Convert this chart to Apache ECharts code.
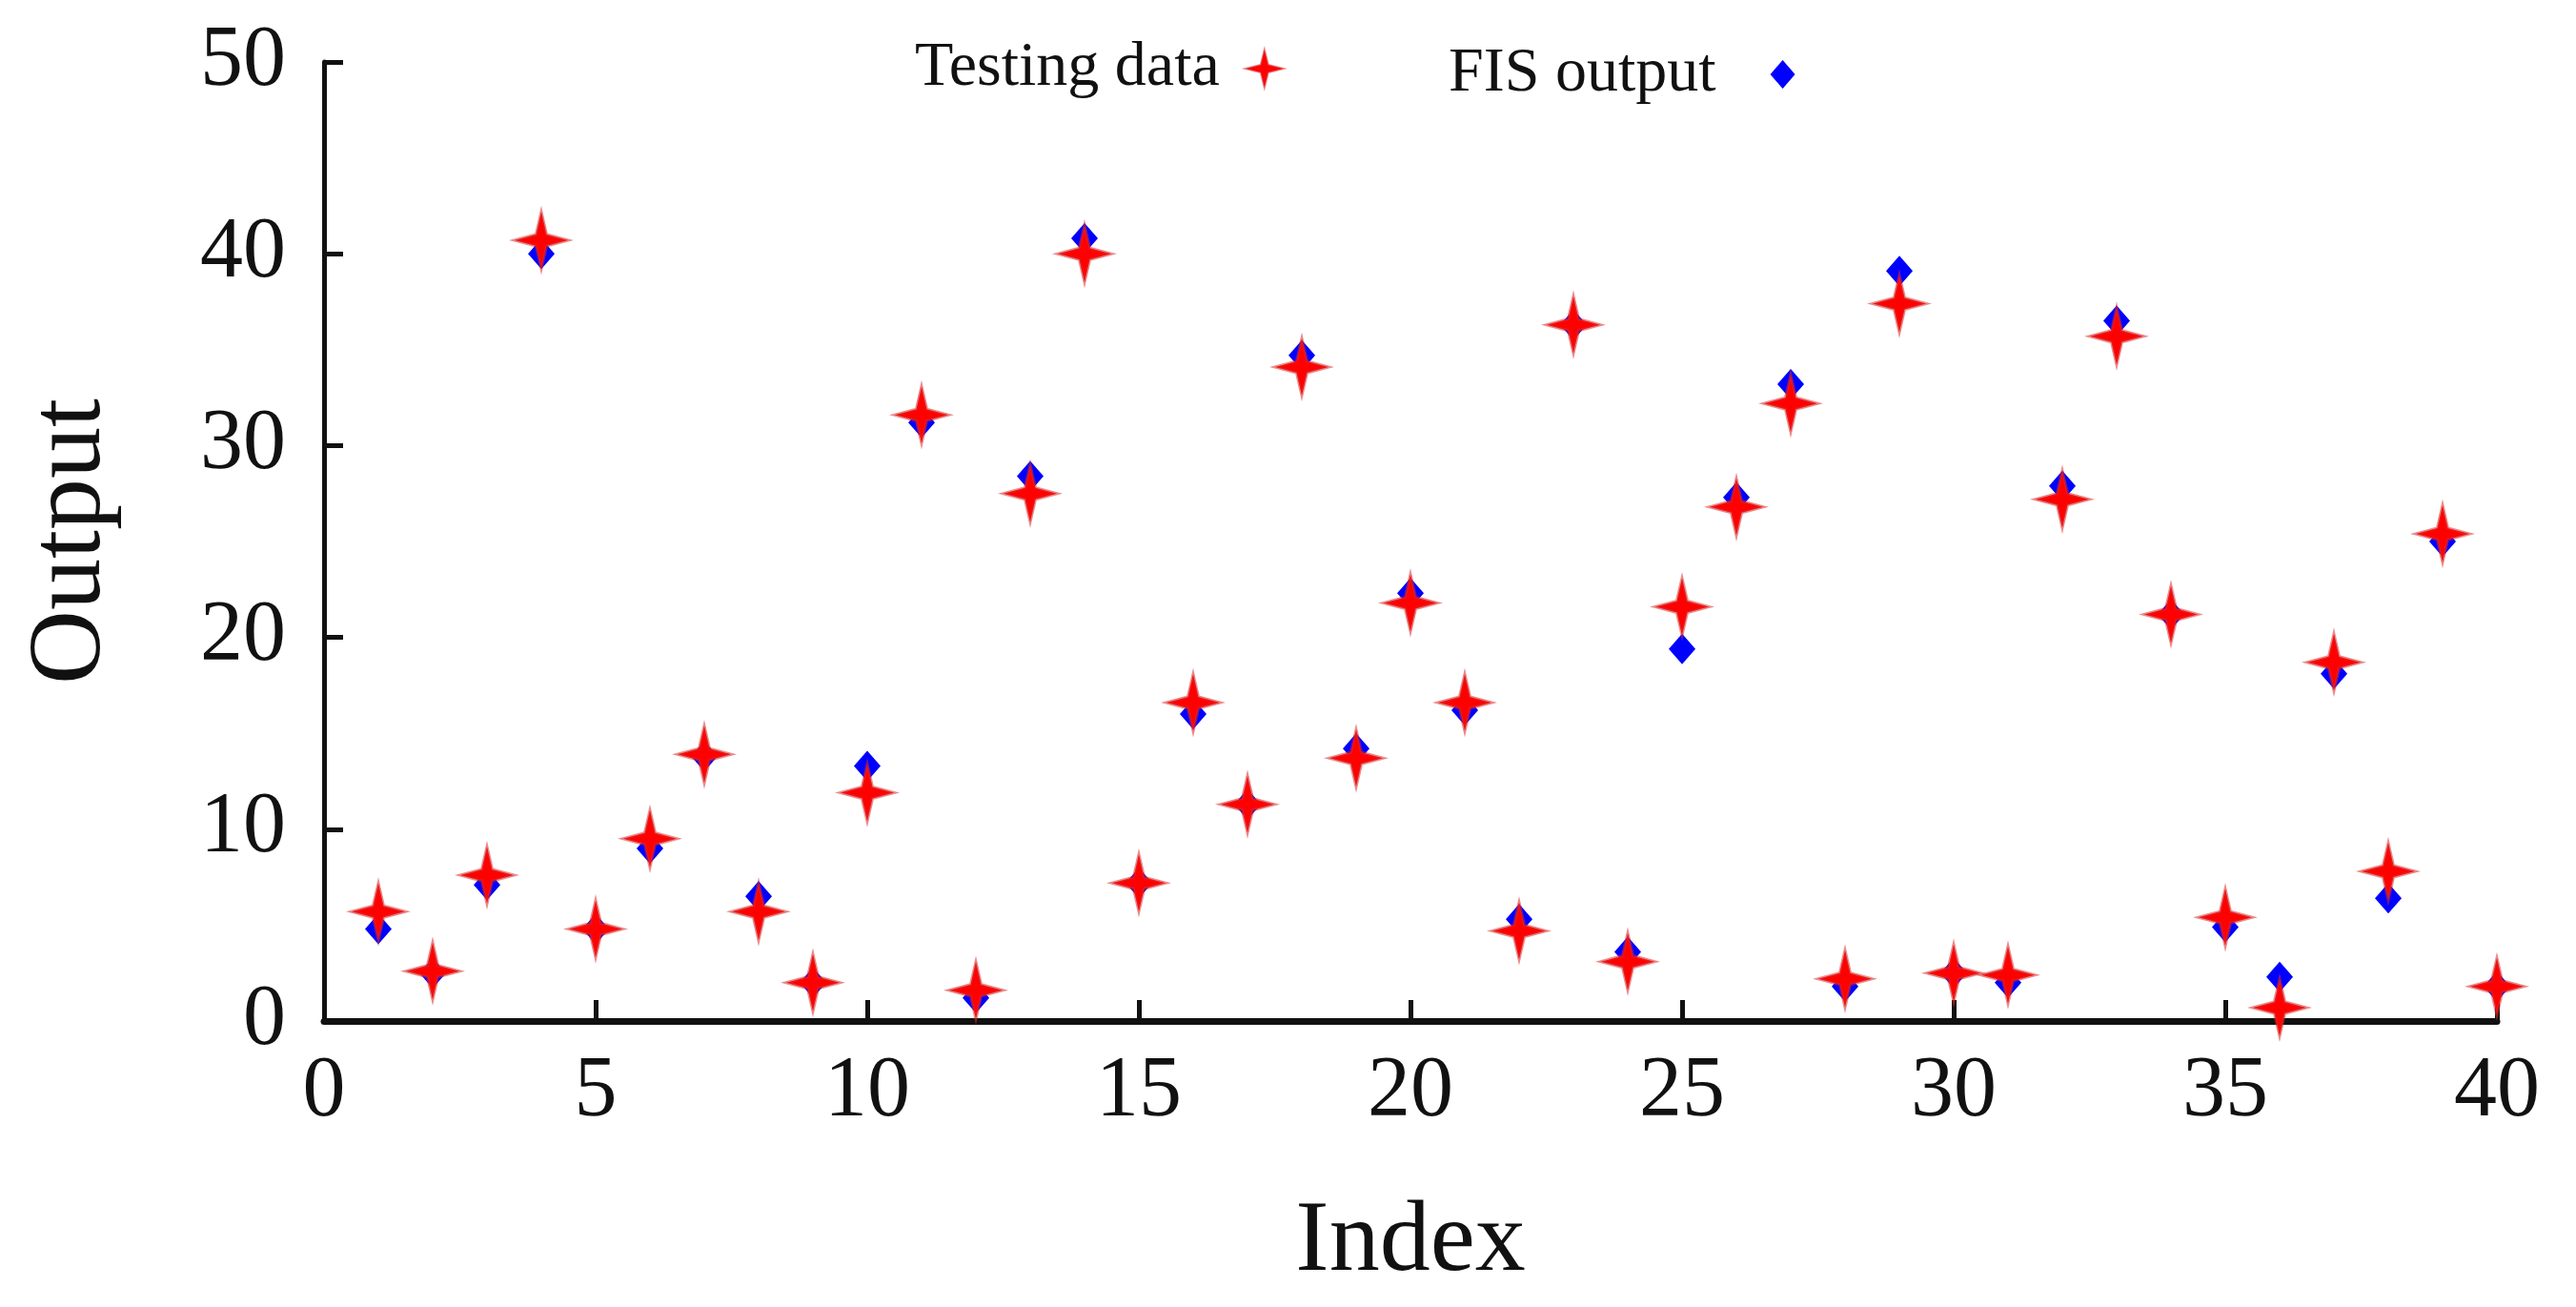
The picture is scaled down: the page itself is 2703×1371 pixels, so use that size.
<!DOCTYPE html>
<html>
<head>
<meta charset="utf-8">
<script src="https://cdn.jsdelivr.net/npm/echarts@6/dist/echarts.min.js"></script>
<style>
  html, body { margin: 0; padding: 0; background: #fff; }
  #chart { width: 2703px; height: 1371px; }
</style>
</head>
<body>
<div id="chart"></div>
<script>
// Data
const indices = [1, 2, 3, 4, 5, 6, 7, 8, 9, 10, 11, 12, 13, 14, 15, 16, 17, 18, 19, 20,
  21, 22, 23, 24, 25, 26, 27, 28, 29, 30, 31, 32, 33, 34, 35, 36, 37, 38, 39, 40];
const testingData = [5.7, 2.6, 7.6, 40.7, 4.8, 9.5, 13.9, 5.7, 2.0, 11.9,
  31.6, 1.6, 27.5, 40.0, 7.2, 16.6, 11.3, 34.1, 13.7, 21.8,
  16.6, 4.7, 36.3, 3.1, 21.6, 26.8, 32.2, 2.2, 37.4, 2.5,
  2.4, 27.2, 35.7, 21.2, 5.4, 0.7, 18.7, 7.8, 25.4, 1.8];
const fisOutput = [4.8, 2.5, 7.1, 40.0, 4.8, 9.0, 13.8, 6.5, 2.0, 13.3,
  31.2, 1.2, 28.4, 40.8, 7.2, 16.0, 11.3, 34.7, 14.2, 22.3,
  16.2, 5.3, 36.3, 3.6, 19.4, 27.3, 33.2, 1.8, 39.1, 2.5,
  2.0, 27.9, 36.5, 21.2, 4.9, 2.3, 18.1, 6.4, 25.0, 1.8];

// 4-point star used for the testing data markers
const starPath = "path://M0,-10 L2,-2 L10,0 L2,2 L0,10 L-2,2 L-10,0 L-2,-2 Z";
const font = "Liberation Serif";

const chart = echarts.init(document.getElementById("chart"));

const option = {
  backgroundColor: "#fff",
  animation: false,
  grid: { left: 340, right: 83, top: 65, bottom: 300 },
  // Two legends so each icon keeps its own size
  legend: [
    {
      data: [{ name: "Testing data", icon: starPath }],
      top: 34,
      left: 955,
      align: "right",
      itemWidth: 40,
      itemHeight: 44,
      textStyle: { fontFamily: font, fontSize: 66, color: "#111", padding: [0, 22, 0, 0] },
    },
    {
      data: [{ name: "FIS output", icon: "diamond" }],
      top: 40,
      left: 1515,
      align: "right",
      itemWidth: 26,
      itemHeight: 30,
      textStyle: { fontFamily: font, fontSize: 66, color: "#111", padding: [0, 52, 0, 0] },
    },
  ],
  xAxis: {
    type: "value",
    min: 0,
    max: 40,
    interval: 5,
    name: "Index",
    nameLocation: "middle",
    nameGap: 180,
    nameTextStyle: { fontFamily: font, fontSize: 106, color: "#111" },
    axisLine: { show: true, lineStyle: { color: "#111", width: 7 } },
    axisTick: { inside: true, length: 22, lineStyle: { color: "#111", width: 5 } },
    axisLabel: { fontFamily: font, fontSize: 90, color: "#111", margin: 30 },
    splitLine: { show: false },
  },
  yAxis: {
    type: "value",
    min: 0,
    max: 50,
    interval: 10,
    name: "Output",
    nameLocation: "middle",
    nameRotate: 90,
    nameGap: 210,
    nameTextStyle: { fontFamily: font, fontSize: 108, color: "#111" },
    axisLine: { show: true, lineStyle: { color: "#111", width: 5 } },
    axisTick: { inside: true, length: 20, lineStyle: { color: "#111", width: 5 } },
    axisLabel: { fontFamily: font, fontSize: 90, color: "#111", margin: 40 },
    splitLine: { show: false },
  },
  series: [
    {
      name: "FIS output",
      type: "scatter",
      symbol: "diamond",
      symbolSize: [28, 32],
      data: indices.map((x, i) => [x, fisOutput[i]]),
      itemStyle: { color: "#0000ff", opacity: 1 },
    },
    {
      name: "Testing data",
      type: "scatter",
      symbol: starPath,
      symbolSize: [56, 60],
      data: indices.map((x, i) => [x, testingData[i]]),
      itemStyle: {
        color: "#ff0000",
        opacity: 1,
        borderColor: "rgba(220,40,40,0.55)",
        borderWidth: 3,
      },
    },
  ],
};

chart.setOption(option);
</script>
</body>
</html>
